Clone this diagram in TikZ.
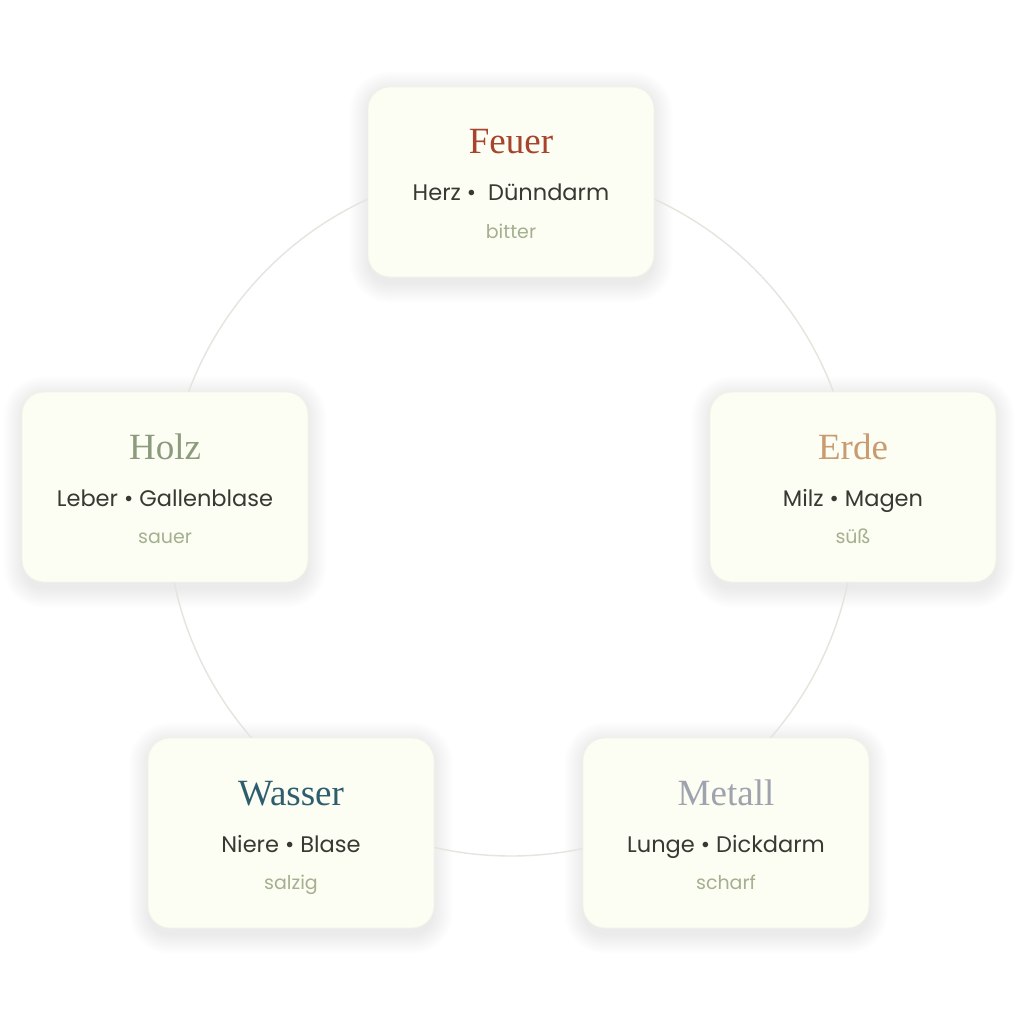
\documentclass[tikz,border=0pt]{standalone}
\usepackage{fontspec}
\setsansfont{Poppins}
\newfontfamily\titlefont{Liberation Serif}
\pgfdeclarelayer{bglayer}
\pgfdeclarelayer{shadowlayer}
\pgfsetlayers{bglayer,shadowlayer,main}
\definecolor{bgwhite}{HTML}{FFFFFF}
\definecolor{boxfill}{HTML}{FCFDF3}
\definecolor{boxline}{HTML}{F1F3E8}
\definecolor{ringcol}{HTML}{E3E6DC}
\definecolor{shadowcol}{HTML}{5A5F50}
\definecolor{feuercol}{HTML}{A8432E}
\definecolor{holzcol}{HTML}{8B9B7B}
\definecolor{erdecol}{HTML}{C99B70}
\definecolor{wassercol}{HTML}{2E5E6D}
\definecolor{metallcol}{HTML}{9EA3AD}
\definecolor{organcol}{HTML}{363A33}
\definecolor{tastecol}{HTML}{A4B08E}
\tikzset{
  card/.style={draw=boxline, line width=0.8pt, fill=boxfill, rounded corners=22pt,
    minimum width=286pt, minimum height=190pt, inner sep=0pt},
  shadowpiece/.style={fill=shadowcol, fill opacity=0.007},
  eltitle/.style={anchor=base, font=\titlefont\fontsize{37}{40}\selectfont, inner sep=0pt},
  organs/.style={anchor=base, font=\sffamily\fontsize{22.5}{26}\selectfont, text=organcol, inner sep=0pt},
  taste/.style={anchor=base, font=\sffamily\fontsize{19}{22}\selectfont, text=tastecol, inner sep=0pt},
  ring/.style={draw=ringcol, line width=1.4pt}
}
\begin{document}
\begin{tikzpicture}[x=1pt, y=-1pt]
\begin{pgfonlayer}{bglayer}
\fill[bgwhite] (0,0) rectangle (1024,1024);
\end{pgfonlayer}
\useasboundingbox (0,0) rectangle (1024,1024);
\coordinate (ctr) at (511,512);
\draw[ring] (ctr) circle[radius=344];

\node[card] (feuer) at (511,182) {};
\node[card] (holz) at (165,487) {};
\node[card] (erde) at (853,487) {};
\node[card] (wasser) at (291,833) {};
\node[card] (metall) at (726,833) {};

\begin{pgfonlayer}{shadowlayer}
\foreach \n in {feuer,holz,erde,wasser,metall}{
  \foreach \s in {0,2,...,18}{
    \fill[shadowpiece, rounded corners=22pt+\s pt]
      ([xshift=-\s pt, yshift=-\s pt-7pt]\n.south west) rectangle
      ([xshift=\s pt, yshift=\s pt-3pt]\n.north east);
  }
}
\end{pgfonlayer}

\node[eltitle, text=feuercol] (feuer-t) at ([yshift=28pt]feuer.center) {Feuer};
\node[organs] (feuer-o) at ([yshift=-19pt]feuer.center) {Herz •\ \ Dünndarm};
\node[taste] (feuer-s) at ([yshift=-56pt]feuer.center) {bitter};

\node[eltitle, text=holzcol] (holz-t) at ([yshift=28pt]holz.center) {Holz};
\node[organs] (holz-o) at ([yshift=-19pt]holz.center) {Leber • Gallenblase};
\node[taste] (holz-s) at ([yshift=-56pt]holz.center) {sauer};

\node[eltitle, text=erdecol] (erde-t) at ([yshift=28pt]erde.center) {Erde};
\node[organs] (erde-o) at ([yshift=-19pt]erde.center) {Milz • Magen};
\node[taste] (erde-s) at ([yshift=-56pt]erde.center) {süß};

\node[eltitle, text=wassercol] (wasser-t) at ([yshift=28pt]wasser.center) {Wasser};
\node[organs] (wasser-o) at ([yshift=-19pt]wasser.center) {Niere • Blase};
\node[taste] (wasser-s) at ([yshift=-56pt]wasser.center) {salzig};

\node[eltitle, text=metallcol] (metall-t) at ([yshift=28pt]metall.center) {Metall};
\node[organs] (metall-o) at ([yshift=-19pt]metall.center) {Lunge • Dickdarm};
\node[taste] (metall-s) at ([yshift=-56pt]metall.center) {scharf};
\end{tikzpicture}
\end{document}
